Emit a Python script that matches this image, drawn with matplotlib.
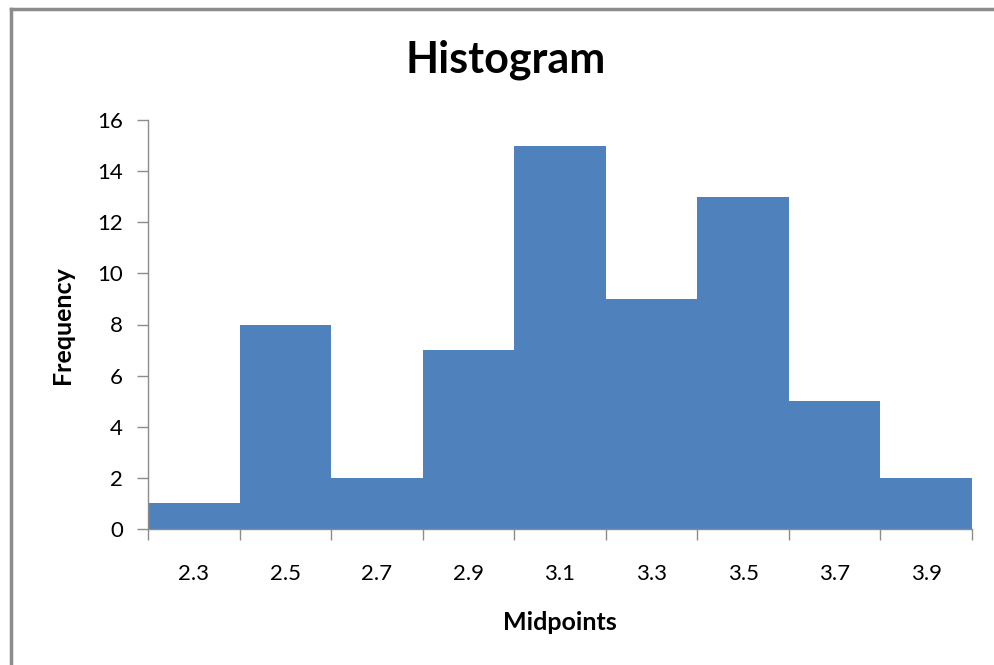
import matplotlib
matplotlib.use("Agg")
import matplotlib.pyplot as plt
from matplotlib.lines import Line2D
import numpy as np

midpoints = [2.3, 2.5, 2.7, 2.9, 3.1, 3.3, 3.5, 3.7, 3.9]
frequency = [1, 8, 2, 7, 15, 9, 13, 5, 2]
midpoint_labels = ["2.3", "2.5", "2.7", "2.9", "3.1", "3.3", "3.5", "3.7", "3.9"]
yticks = [0, 2, 4, 6, 8, 10, 12, 14, 16]

plt.rcParams['font.family'] = ['Lato', 'DejaVu Sans']

fig = plt.figure(figsize=(9.94, 6.65), dpi=100)
ax = fig.add_axes([148/994, 1-529/665, (972-148)/994, (529-120)/665])

x = np.arange(len(midpoints))
ax.bar(x, frequency, width=1.0, color="#4F81BD", linewidth=0, align="center")
ax.set_xlim(-0.5, len(midpoints)-0.5)
ax.set_ylim(0, 16)
ax.set_yticks(yticks)
ax.set_yticklabels([str(v) for v in yticks], fontsize=16)
ax.set_xticks(x)
ax.set_xticklabels(midpoint_labels, fontsize=16)
ax.tick_params(axis='x', length=0, pad=25)
ax.set_xticks(np.arange(len(midpoints)+1)-0.5, minor=True)
ax.tick_params(axis='x', which='minor', length=8, color="#8C8C8C", width=1)
ax.tick_params(axis='y', length=8, color="#8C8C8C", width=1, pad=10)
for s in ['top', 'right']:
    ax.spines[s].set_visible(False)
for s in ['left', 'bottom']:
    ax.spines[s].set_color("#8C8C8C")
    ax.spines[s].set_linewidth(1)

fig.text(506/994, 1-60/665, "Histogram", fontsize=31, fontweight='bold', ha='center', va='center')
fig.text(62/994, 1-325/665, "Frequency", fontsize=18, fontweight='bold', ha='center', va='center', rotation=90)
fig.text(560/994, 1-623/665, "Midpoints", fontsize=18, fontweight='bold', ha='center', va='center')

fig.add_artist(Line2D([10.5/994, 1.0], [1-8.5/665, 1-8.5/665], color="#8C8C8C", linewidth=2.5, transform=fig.transFigure))
fig.add_artist(Line2D([10.5/994, 10.5/994], [0, 1-8.5/665], color="#8C8C8C", linewidth=2.5, transform=fig.transFigure))

fig.savefig("out.png", dpi=100)
